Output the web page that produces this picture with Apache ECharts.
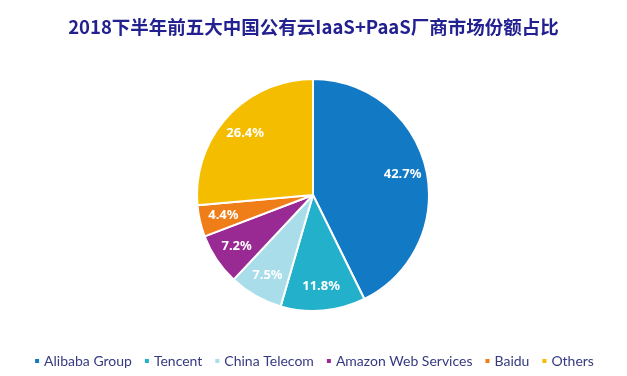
<!DOCTYPE html>
<html>
<head>
<meta charset="utf-8">
<script src="https://cdn.jsdelivr.net/npm/echarts@6/dist/echarts.min.js"></script>
<style>
html, body { margin: 0; padding: 0; background: #fff; }
#main { width: 627px; height: 376px; }
</style>
</head>
<body>
<div id="main"></div>
<script>
var names = ['Alibaba Group', 'Tencent', 'China Telecom', 'Amazon Web Services', 'Baidu', 'Others'];
var shares = [42.7, 11.8, 7.5, 7.2, 4.4, 26.4];
var colors = ['#1279c5', '#22b0cb', '#a8dde9', '#9a2a93', '#f07e18', '#f4bd00'];

var chart = echarts.init(document.getElementById('main'));

var pieData = names.map(function (n, i) {
    return { name: n, value: shares[i], itemStyle: { color: colors[i] } };
});

var option = {
    backgroundColor: '#fff',
    animation: false,
    title: {
        text: '2018下半年前五大中国公有云IaaS+PaaS厂商市场份额占比',
        left: 'center',
        top: 13,
        textStyle: {
            fontFamily: 'Noto Sans CJK SC',
            fontSize: 18.5,
            fontWeight: 'bold',
            color: '#23208f'
        }
    },
    legend: {
        data: names,
        bottom: 3,
        left: 'center',
        icon: 'rect',
        itemWidth: 6,
        itemHeight: 6,
        itemGap: 11,
        textStyle: {
            fontFamily: 'Lato',
            fontSize: 14,
            color: '#363a80',
            padding: [0, 0, 0, -1]
        }
    },
    series: [
        {
            type: 'pie',
            center: [313, 195],
            radius: [0, 116],
            startAngle: 90,
            clockwise: true,
            silent: true,
            label: { show: false },
            labelLine: { show: false },
            itemStyle: { borderColor: '#fff', borderWidth: 2 },
            data: pieData
        },
        {
            // transparent ring, only used to put the % labels further out
            type: 'pie',
            center: [313, 195],
            radius: [62, 116],
            startAngle: 90,
            clockwise: true,
            silent: true,
            itemStyle: { color: 'rgba(0,0,0,0)', borderWidth: 0 },
            label: {
                show: true,
                position: 'inside',
                formatter: function (p) { return p.value.toFixed(1) + '%'; },
                color: '#fff',
                fontFamily: 'Noto Sans',
                fontWeight: 'bold',
                fontSize: 13
            },
            labelLine: { show: false },
            data: names.map(function (n, i) {
                return { name: n, value: shares[i] };
            })
        }
    ]
};

chart.setOption(option);
</script>
</body>
</html>
